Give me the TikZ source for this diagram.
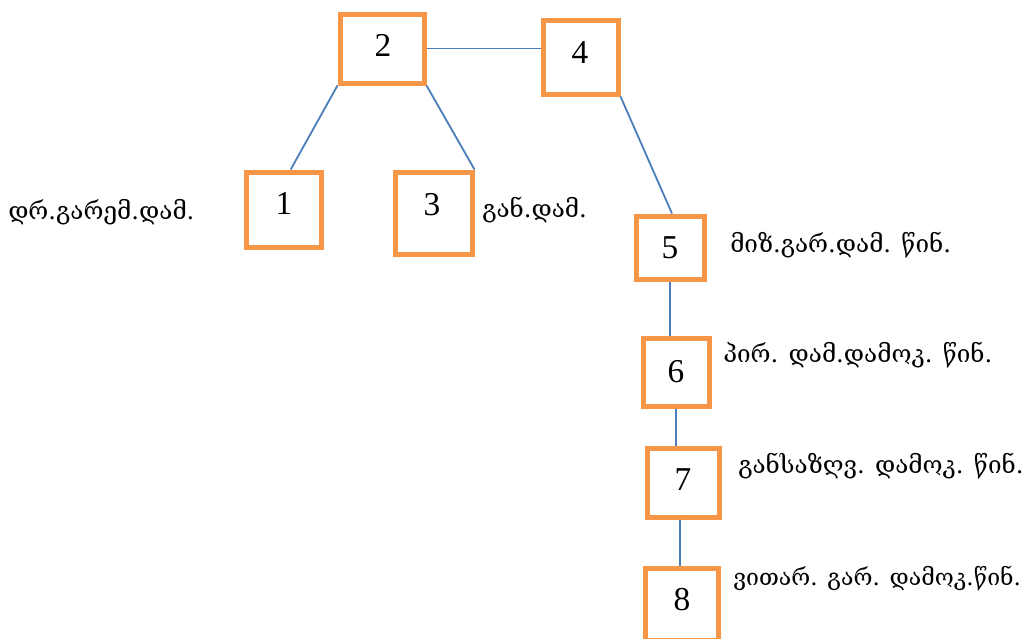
\documentclass[tikz,border=0pt]{standalone}
\usepackage{fontspec}
\setmainfont{Liberation Serif}
\newfontfamily\geo{DejaVu Serif}
\usetikzlibrary{calc}
\definecolor{boxorange}{HTML}{F79646}
\definecolor{linkblue}{HTML}{4A7EBB}
\tikzset{
  box/.style 2 args={draw=boxorange, line width=3.75pt, minimum width=#1*0.75pt, minimum height=#2*0.75pt, inner sep=0pt},
  num/.style={font=\fontsize{25}{29}\selectfont, inner sep=0pt},
  lab/.style={font=\geo\fontsize{18.2}{22}\selectfont, inner sep=0pt, anchor=west},
  link/.style={draw=linkblue, line width=1.35pt}
}
\begin{document}
\begin{tikzpicture}[x=0.75pt,y=-0.75pt]
\useasboundingbox (0,0) rectangle (1033,639);
\node[box={75}{75}] (b1) at (283.5,209.5) {};
\node[box={84}{69}] (b2) at (382,48.5) {};
\node[box={77}{82}] (b3) at (433.5,213) {};
\node[box={75}{74}] (b4) at (580.5,57) {};
\node[box={68}{63}] (b5) at (670,247.5) {};
\node[box={66}{68}] (b6) at (676,372) {};
\node[box={72}{69}] (b7) at (683,482.5) {};
\node[box={73}{72}] (b8) at (681.5,604) {};
\node[num] (n1) at (284,203) {1};
\node[num] (n2) at (383,45) {2};
\node[num] (n3) at (432,205) {3};
\node[num] (n4) at (580,53) {4};
\node[num] (n5) at (670,248) {5};
\node[num] (n6) at (676,372) {6};
\node[num] (n7) at (683,480) {7};
\node[num] (n8) at (682,600) {8};
\draw[link] (b2.south west) -- ($(b1.north west)!0.59!(b1.north east)$);
\draw[link] (b2.south east) -- (b3.north east);
\draw[link] (b2.east) -- (b2.east -| b4.west);
\draw[link] (b4.south east) -- ($(b5.north)+(2,0)$);
\draw[link] (b5.south) -- (b5.south |- b6.north);
\draw[link] (b6.south) -- (b6.south |- b7.north);
\draw[link] ($(b7.south)+(-3,0)$) -- ($(b7.south |- b8.north)+(-3,0)$);
\node[lab] (t1) at (8,212) {დრ.გარემ.დამ.};
\node[lab] (t3) at (482,210) {გან.დამ.};
\node[lab] (t5) at (730,245) {მიზ.გარ.დამ. წინ.};
\node[lab] (t6) at (723,355) {პირ. დამ.დამოკ. წინ.};
\node[lab] (t7) at (738,466) {განსაზღვ. დამოკ. წინ.};
\node[lab, font=\geo\fontsize{17.3}{21}\selectfont] (t8) at (733,578) {ვითარ. გარ. დამოკ.წინ.};
\end{tikzpicture}
\end{document}
